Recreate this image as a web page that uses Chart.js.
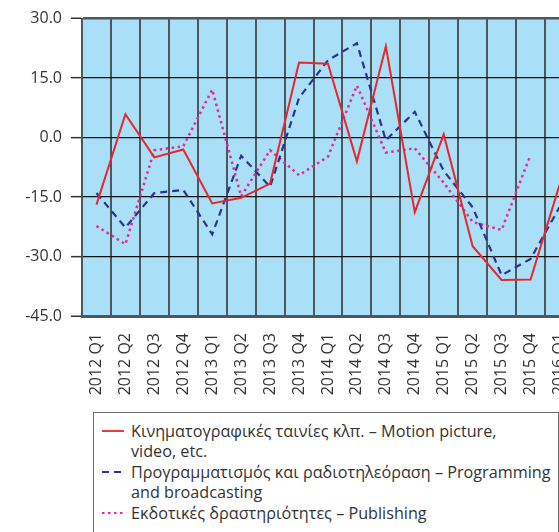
<!DOCTYPE html>
<html>
<head>
<meta charset="utf-8">
<script src="https://cdn.jsdelivr.net/npm/chart.js@4/dist/chart.umd.min.js"></script>
<style>
  html, body { margin: 0; padding: 0; background: #fff; overflow: hidden; width: 559px; height: 532px; }
  #plot { position: absolute; left: 0; top: 0; }
  #legend {
    position: absolute; left: 93px; top: 412px; width: 466px; height: 140px;
    border: 1.5px solid #6a6a6a; box-sizing: border-box;
    font-family: "Open Sans", sans-serif; font-size: 16.2px; color: #333;
    padding-top: 8px;
  }
  .item { position: relative; padding-left: 37px; line-height: 20px; margin-bottom: 1px; white-space: nowrap; }
  .item svg { position: absolute; left: 8px; top: 8px; }
</style>
</head>
<body>
<canvas id="plot" width="596" height="410"></canvas>
<div id="legend"></div>
<script>
// Quarterly series (percentage change)
const categories = [
  '2012 Q1', '2012 Q2', '2012 Q3', '2012 Q4',
  '2013 Q1', '2013 Q2', '2013 Q3', '2013 Q4',
  '2014 Q1', '2014 Q2', '2014 Q3', '2014 Q4',
  '2015 Q1', '2015 Q2', '2015 Q3', '2015 Q4',
  '2016 Q1'
];
const motionPicture = [-16.9, 5.9, -5.0, -3.0, -16.6, -15.2, -11.6, 18.9, 18.6, -6.0, 23.0, -18.8, 0.8, -27.4, -35.9, -35.8, -12.0];
const programming   = [-14.0, -22.7, -14.0, -13.2, -24.4, -4.6, -12.4, 10.0, 19.5, 23.8, -0.7, 6.5, -8.4, -17.6, -34.7, -30.6, -17.6];
const publishing    = [-22.3, -26.9, -3.2, -2.2, 12.1, -14.8, -3.2, -9.5, -4.8, 13.1, -3.8, -2.7, -11.4, -21.3, -23.3, -4.4, null];
const yTicks = [-45, -30, -15, 0, 15, 30];

const seriesLabels = [
  'Κινηματογραφικές ταινίες κλπ. – Motion picture, video, etc.',
  'Προγραμματισμός και ραδιοτηλεόραση – Programming and broadcasting',
  'Εκδοτικές δραστηριότητες – Publishing'
];
const legendLines = [
  ['Κινηματογραφικές ταινίες κλπ. – Motion picture,', 'video, etc.'],
  ['Προγραμματισμός και ραδιοτηλεόραση – Programming', 'and broadcasting'],
  ['Εκδοτικές δραστηριότητες – Publishing']
];

const FRAME = '#4c585e';
const TEXT = '#333333';

const plotBackground = {
  id: 'plotBackground',
  beforeDraw(chart) {
    const { ctx, chartArea: a } = chart;
    ctx.save();
    ctx.fillStyle = '#aadff8';
    ctx.fillRect(a.left, a.top, a.right - a.left, a.bottom - a.top);
    ctx.restore();
  }
};

const datasets = [
  { label: seriesLabels[0], data: motionPicture, borderColor: '#e8262c', borderWidth: 2, borderDash: [] },
  { label: seriesLabels[1], data: programming, borderColor: '#2e3192', borderWidth: 2.2, borderDash: [7, 5] },
  { label: seriesLabels[2], data: publishing, borderColor: '#e6289b', borderWidth: 2.5, borderDash: [2.5, 3.5] }
].map(d => Object.assign(d, { pointRadius: 0, tension: 0, fill: false, spanGaps: false }));

const chart = new Chart(document.getElementById('plot'), {
  type: 'line',
  data: { labels: categories, datasets },
  options: {
    responsive: false,
    animation: false,
    devicePixelRatio: 1,
    layout: { padding: { left: 0, top: 12.5, right: 11, bottom: 0 } },
    plugins: { legend: { display: false }, tooltip: { enabled: false } },
    scales: {
      x: {
        offset: true,
        afterFit(s) { s.height = 94; },
        grid: { offset: true, color: FRAME, lineWidth: 2, drawTicks: false },
        border: { display: true, color: FRAME, width: 3 },
        ticks: {
          autoSkip: false, maxRotation: 90, minRotation: 90, padding: 17,
          color: TEXT, font: { family: 'Open Sans', size: 16 }
        }
      },
      y: {
        min: -45, max: 30,
        afterFit(s) { s.width = 82; },
        afterBuildTicks(s) { s.ticks = yTicks.map(v => ({ value: v })); },
        grid: {
          color: c => (c.tick && (c.tick.value === 30 || c.tick.value === -45)) ? FRAME : '#111',
          lineWidth: c => (c.tick && (c.tick.value === 30 || c.tick.value === -45)) ? 2.5 : 1.3,
          drawTicks: true, tickLength: 11, tickColor: '#333', tickWidth: 1.5
        },
        border: { display: true, color: FRAME, width: 2 },
        ticks: {
          padding: 9, color: TEXT, font: { family: 'Open Sans', size: 16 },
          callback: v => Number(v).toFixed(1)
        }
      }
    }
  },
  plugins: [plotBackground]
});

// Legend built from the chart's datasets
const legend = document.getElementById('legend');
chart.data.datasets.forEach((ds, i) => {
  const item = document.createElement('div');
  item.className = 'item';
  const dash = ds.borderDash.length ? ds.borderDash.join(' ') : 'none';
  item.innerHTML =
    '<svg width="22" height="4"><line x1="0" y1="2" x2="22" y2="2" stroke="' + ds.borderColor +
    '" stroke-width="1.8" stroke-dasharray="' + dash + '"/></svg>' +
    legendLines[i].map(t => '<div>' + t + '</div>').join('');
  legend.appendChild(item);
});
</script>
</body>
</html>
